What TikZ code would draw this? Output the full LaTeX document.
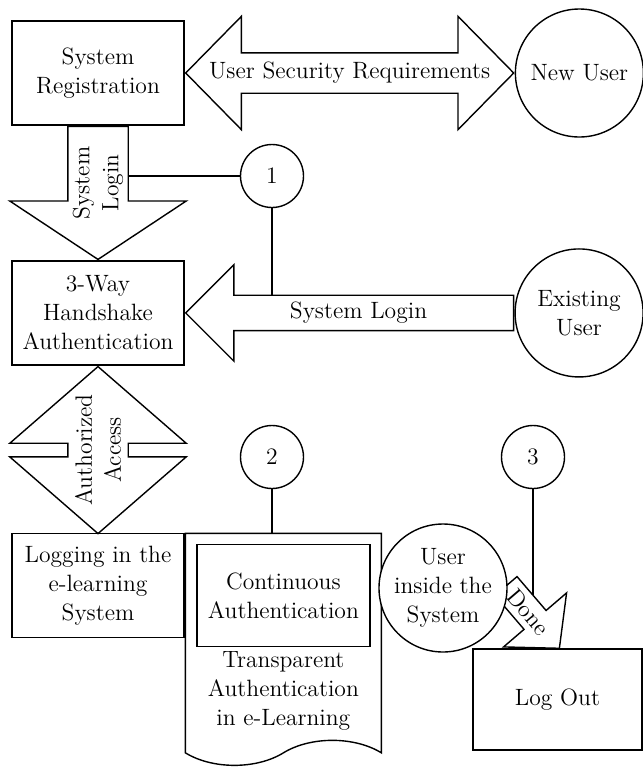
\documentclass[tikz,border=0pt]{standalone}
\usepackage{fontspec}
\usepackage{tikz}
\usetikzlibrary{positioning,shapes.arrows,shapes.symbols,backgrounds}

\begin{document}
\begin{tikzpicture}[
  x=0.5pt,y=-0.5pt,
  every node/.style={font=\fontsize{11.8}{14.5}\selectfont},
  box/.style={rectangle,draw,line width=0.7pt,fill=white,align=center,minimum width=86pt,minimum height=52pt,inner sep=1pt},
  actor/.style={circle,draw,line width=0.7pt,fill=white,align=center,minimum size=64pt,inner sep=0pt},
  marker/.style={circle,draw,line width=0.7pt,fill=white,minimum size=31.5pt,inner sep=0pt},
  doc/.style={tape,draw,line width=0.7pt,fill=white,tape bend top=none,tape bend bottom=in and out,tape bend height=12.5pt,minimum width=98pt,minimum height=116pt},
  flow/.style={single arrow,draw,line width=0.7pt,fill=white,inner xsep=0pt},
  both/.style={double arrow,draw,line width=0.7pt,fill=white,inner xsep=0pt},
  lbl/.style={align=center,inner sep=0pt},
  link/.style={draw,line width=0.7pt},
]
\useasboundingbox (0,0) rectangle (643,767);

% Registration and new user
\node[box] (sysreg) at (98,73) {System\\Registration};
\node[both,right=0pt of sysreg,inner ysep=9.75pt,double arrow head extend=18.25pt,double arrow tip angle=91,minimum height=164pt] (usr) {};
\node[lbl] (usrtxt) at (usr) {User Security Requirements};
\node[actor,right=0pt of usr] (newuser) {New User};

% Login of a registered user
\node[flow,rotate=-90,anchor=tail,inner ysep=14.75pt,single arrow head extend=29pt,single arrow tip angle=113,minimum height=66.5pt] (slogin) at (sysreg.south) {};
\node[lbl,rotate=90] (slogintxt) at (slogin) {System\\Login};
\node[box,below=0pt of slogin.tip] (handshake) {3-Way\\Handshake\\Authentication};
\node[flow,rotate=180,anchor=tip,inner ysep=8.5pt,single arrow head extend=15.25pt,single arrow tip angle=90,minimum height=164pt] (login) at (handshake.east) {};
\node[lbl] (logintxt) at (login) {System Login};
\node[actor,right=0pt of login.tail] (existing) {Existing\\User};
\node[marker] (one) at (272,176) {1};

% Access to the e-learning system
\node[box,below=83.5pt of handshake] (logging) {Logging in the\\e-learning\\System};
\node[both,rotate=90,anchor=east,inner ysep=14.75pt,double arrow head extend=29pt,double arrow tip angle=98,minimum height=83.5pt] (auth) at (handshake.south) {};
\node[lbl,rotate=90] (authtxt) at (auth) {Authorized\\Access};
\node[doc,anchor=north west] (doc) at (logging.north east) {};
\node[box,below=5.5pt of doc.north,minimum width=86.5pt,minimum height=51pt] (cont) {Continuous\\Authentication};
\node[lbl,below=2pt of cont] (transp) {Transparent\\Authentication\\in e-Learning};
\node[marker] (two) at (272,457) {2};

% Log out
\node[marker] (three) at (533,457) {3};
\node[flow,rotate=-49.4,anchor=tip,inner ysep=6.9pt,single arrow head extend=13.5pt,single arrow tip angle=96,minimum height=41pt] (done) at (560,649) {};
\node[lbl,rotate=-49.4] (donetxt) at (done) {Done};
\node[actor] (inside) at (443,588) {User\\inside the\\System};
\node[box,minimum width=84.5pt,minimum height=50.5pt] (logout) at (557.5,699.5) {Log Out};

\begin{scope}[on background layer]
\draw[link] (one) -- (one -| slogin);
\draw[link] (one) -- (one |- login);
\draw[link] (two) -- (two |- doc.north);
\draw[link] (three) -- (three |- logout.north);
\end{scope}

\end{tikzpicture}
\end{document}
